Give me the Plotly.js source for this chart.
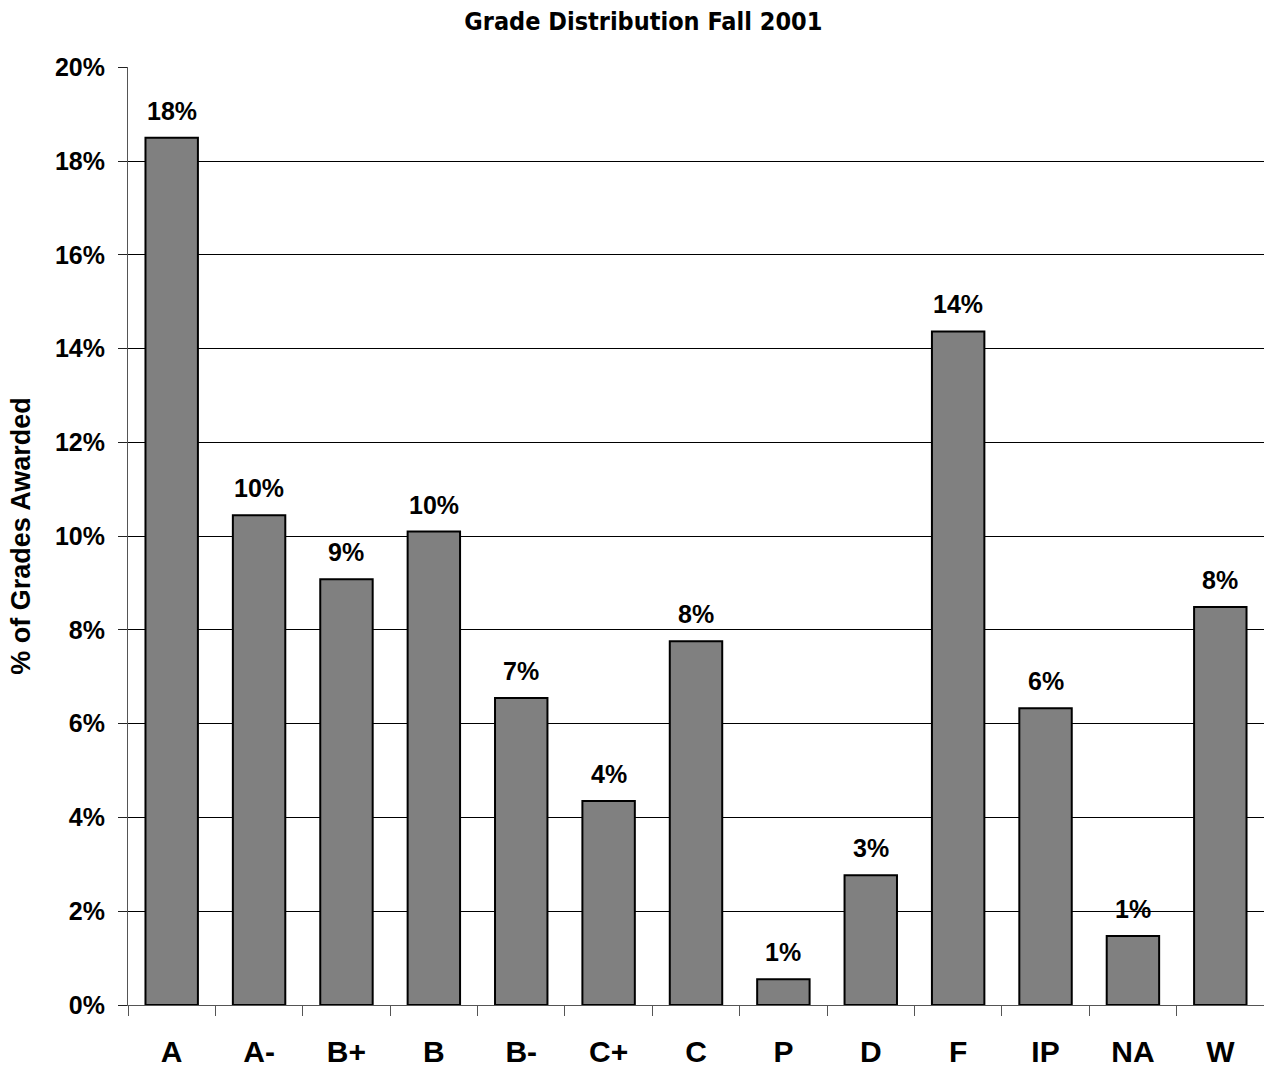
<!DOCTYPE html>
<html>
<head>
<meta charset="utf-8">
<script src="https://cdn.plot.ly/plotly-3.0.1.min.js"></script>
<style>html,body{margin:0;padding:0;background:#fff;}#chart{width:1264px;height:1069px;}</style>
</head>
<body>
<div id="chart"></div>
<script>
const grades = ["A", "A-", "B+", "B", "B-", "C+", "C", "P", "D", "F", "IP", "NA", "W"];
const percentValues = [0.185, 0.1045, 0.0908, 0.101, 0.0655, 0.0435, 0.0776, 0.0055, 0.0277, 0.1437, 0.0633, 0.0147, 0.0849];
const barLabels = ["18%", "10%", "9%", "10%", "7%", "4%", "8%", "1%", "3%", "14%", "6%", "1%", "8%"];
const yTickValues = [0, 0.02, 0.04, 0.06, 0.08, 0.10, 0.12, 0.14, 0.16, 0.18, 0.20];
const yTickLabels = ["0%", "2%", "4%", "6%", "8%", "10%", "12%", "14%", "16%", "18%", "20%"];

const font = "Arial, 'Liberation Sans', sans-serif";
const narrow = "'Liberation Sans Narrow', 'Arial Narrow', 'DejaVu Sans Condensed', sans-serif";

const labelAnnotations = grades.map((g, i) => ({
  x: g, y: percentValues[i], xref: "x", yref: "y",
  text: "<b>" + barLabels[i] + "</b>",
  showarrow: false, yanchor: "bottom", yshift: 11,
  font: {family: font, size: 25, color: "#000"}
}));

Plotly.newPlot("chart", [{
  type: "bar",
  x: grades,
  y: percentValues,
  marker: {color: "#808080", line: {color: "#000", width: 2}},
  hoverinfo: "none"
}], {
  width: 1264,
  height: 1069,
  margin: {l: 128, r: 0, t: 67, b: 64},
  paper_bgcolor: "#fff",
  plot_bgcolor: "#fff",
  bargap: 0.4,
  showlegend: false,
  annotations: labelAnnotations,
  title: {
    text: "<b>Grade Distribution Fall 2001</b>",
    font: {family: narrow, size: 25, color: "#000"},
    x: 0.509, xanchor: "center", xref: "container",
    y: 0.988, yanchor: "top", yref: "container"
  },
  xaxis: {
    type: "category",
    tickson: "boundaries",
    ticks: "outside",
    ticklen: 10,
    tickcolor: "#555",
    tickwidth: 1,
    showline: true,
    linecolor: "#555",
    linewidth: 1,
    showgrid: false,
    tickfont: {family: font, size: 30, color: "#000", weight: "bold"},
    ticklabelstandoff: 20
  },
  yaxis: {
    range: [0, 0.2001],
    tickvals: yTickValues,
    ticktext: yTickLabels,
    ticks: "outside",
    ticklen: 9,
    tickcolor: "#222",
    showline: true,
    linecolor: "#555",
    linewidth: 1,
    showgrid: true,
    gridcolor: "#000",
    gridwidth: 1,
    zeroline: false,
    tickfont: {family: font, size: 25, color: "#000", weight: "bold"},
    ticklabelstandoff: 8,
    title: {
      text: "<b>% of Grades Awarded</b>",
      font: {family: font, size: 27, color: "#000"},
      standoff: 16
    }
  }
}, {displayModeBar: false, staticPlot: true});
</script>
</body>
</html>
